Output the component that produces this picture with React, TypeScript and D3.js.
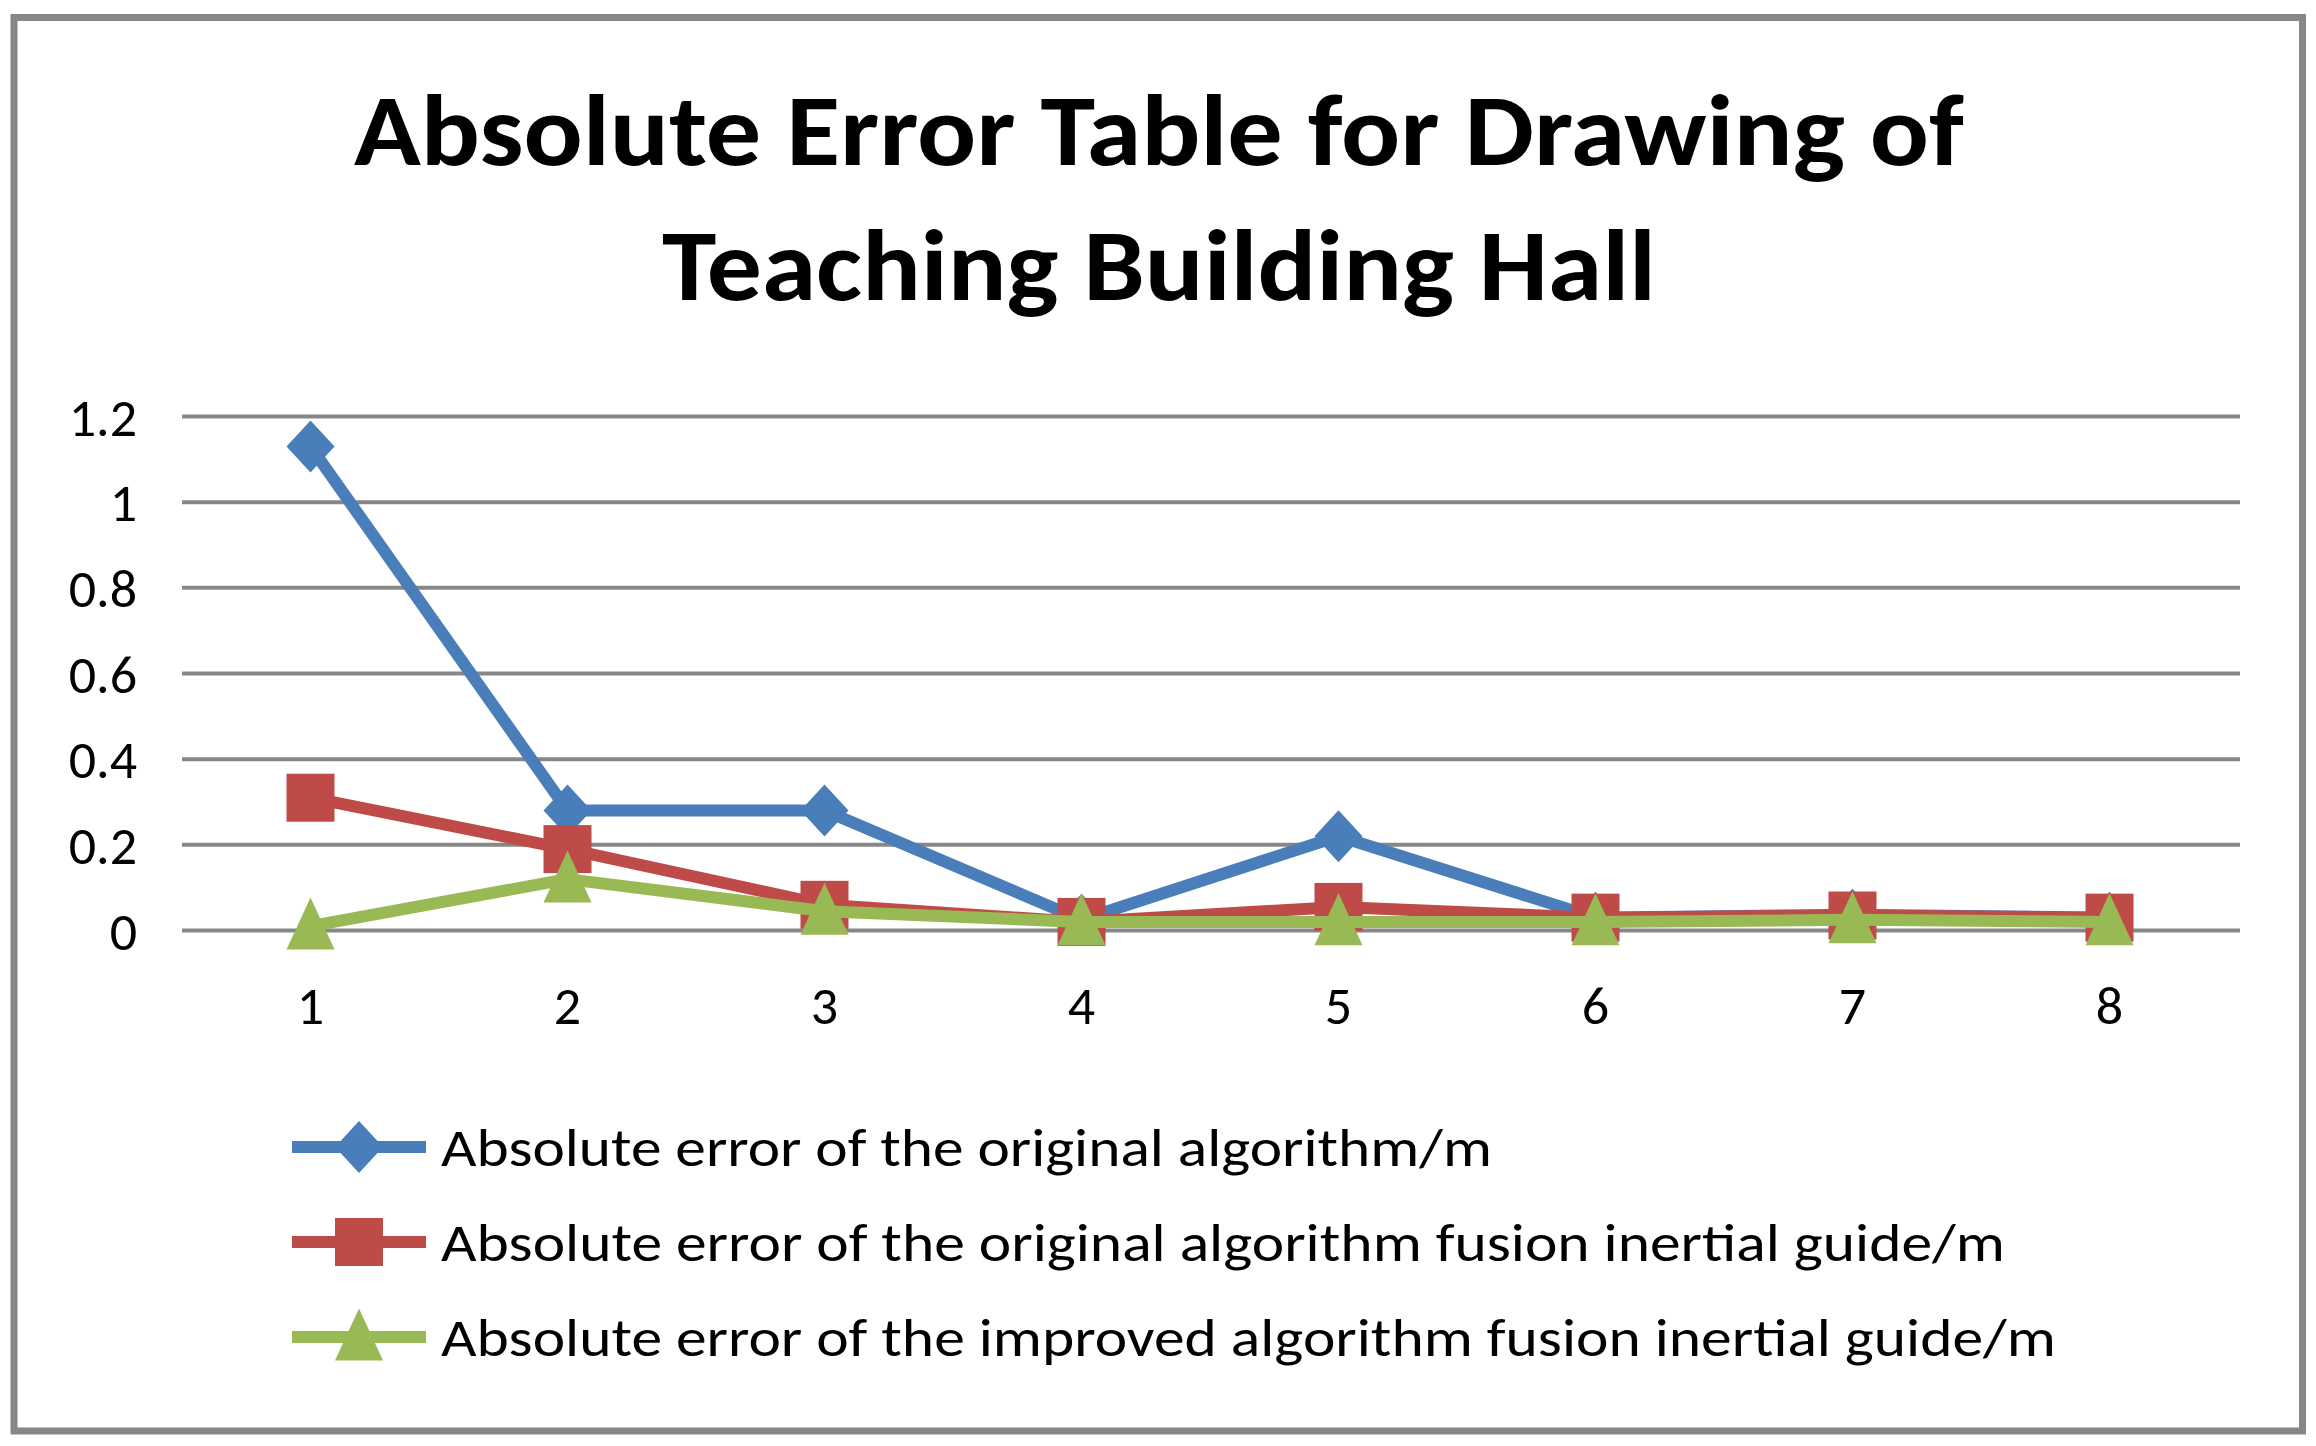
import React from "react";
import * as d3 from "d3";

const categories = ["1", "2", "3", "4", "5", "6", "7", "8"];
const originalErr = [1.13, 0.28, 0.28, 0.025, 0.22, 0.03, 0.037, 0.03];
const fusionErr = [0.31, 0.19, 0.06, 0.02, 0.055, 0.03, 0.035, 0.03];
const improvedErr = [0.01, 0.12, 0.045, 0.02, 0.02, 0.02, 0.025, 0.02];
const yTicks = [0, 0.2, 0.4, 0.6, 0.8, 1, 1.2];
const titleLines = ["Absolute Error Table for Drawing of", "Teaching Building Hall"];
const seriesNames = [
  "Absolute error of the original algorithm/m",
  "Absolute error of the original algorithm fusion inertial guide/m",
  "Absolute error of the improved algorithm fusion inertial guide/m",
];

const W = 2316;
const H = 1446;
const FONT = "Carlito, Lato, 'Open Sans', sans-serif";

type Series = { name: string; values: number[]; color: string; marker: "diamond" | "square" | "triangle" };

const series: Series[] = [
  { name: seriesNames[0], values: originalErr, color: "#4A7EBB", marker: "diamond" },
  { name: seriesNames[1], values: fusionErr, color: "#BE4B48", marker: "square" },
  { name: seriesNames[2], values: improvedErr, color: "#98B954", marker: "triangle" },
];

function Marker({ type, x, y, color }: { type: string; x: number; y: number; color: string }) {
  if (type === "diamond") {
    const w = 24, h = 26;
    return <path d={`M${x},${y - h}L${x + w},${y}L${x},${y + h}L${x - w},${y}Z`} fill={color} />;
  }
  if (type === "square") {
    const s = 24;
    return <rect x={x - s} y={y - s} width={s * 2} height={s * 2} fill={color} />;
  }
  const w = 24, h = 52;
  const top = y - h * 0.55;
  return <path d={`M${x},${top}L${x + w},${top + h}L${x - w},${top + h}Z`} fill={color} />;
}

export default function App() {
  const x = d3.scalePoint<string>().domain(categories).range([182, 2238]).padding(0.5);
  const y = d3.scaleLinear().domain([0, 1.2]).range([930.5, 416.5]);
  const fmt = d3.format("~g");
  const line = d3
    .line<number>()
    .x((_, i) => x(categories[i]) as number)
    .y((d) => y(d));

  const legendY = [1147, 1242, 1337];
  const tickSize = 54;

  return (
    <svg
      width={W}
      height={H}
      style={{ position: "absolute", left: 0, top: 0, background: "#fff" }}
      xmlns="http://www.w3.org/2000/svg"
    >
      <rect x={0} y={0} width={W} height={H} fill="#fff" />
      <rect x={14} y={17.5} width={2288.5} height={1413.5} fill="none" stroke="#878787" strokeWidth={7} />

      {titleLines.map((t, i) => (
        <text
          key={t}
          x={1159}
          y={i === 0 ? 165 : 300}
          textAnchor="middle"
          fontFamily={FONT}
          fontWeight="bold"
          fontSize={101}
          textLength={i === 0 ? 1610 : 994}
          lengthAdjust="spacingAndGlyphs"
          fill="#000"
        >
          {t}
        </text>
      ))}

      {yTicks.map((t) => (
        <g key={t}>
          <line x1={182} x2={2240} y1={y(t)} y2={y(t)} stroke="#878787" strokeWidth={4} />
          <text x={137} y={y(t) + 19} textAnchor="end" fontFamily={FONT} fontSize={tickSize} fill="#000">
            {fmt(t)}
          </text>
        </g>
      ))}

      {categories.map((c) => (
        <text key={c} x={x(c)} y={1024} textAnchor="middle" fontFamily={FONT} fontSize={tickSize} fill="#000">
          {c}
        </text>
      ))}

      {series.map((s) => (
        <g key={s.name}>
          <path d={line(s.values) || ""} fill="none" stroke={s.color} strokeWidth={12} strokeLinejoin="round" />
          {s.values.map((v, i) => (
            <Marker key={i} type={s.marker} x={x(categories[i]) as number} y={y(v)} color={s.color} />
          ))}
        </g>
      ))}

      {series.map((s, i) => (
        <g key={"lg" + s.name}>
          <line x1={292} x2={426} y1={legendY[i]} y2={legendY[i]} stroke={s.color} strokeWidth={12} />
          <Marker type={s.marker} x={359} y={legendY[i]} color={s.color} />
          <text
            x={441}
            y={legendY[i] + 19}
            fontFamily={FONT}
            fontSize={53}
            textLength={[1051, 1564, 1615][i]}
            lengthAdjust="spacingAndGlyphs"
            fill="#000"
          >
            {s.name}
          </text>
        </g>
      ))}
    </svg>
  );
}
